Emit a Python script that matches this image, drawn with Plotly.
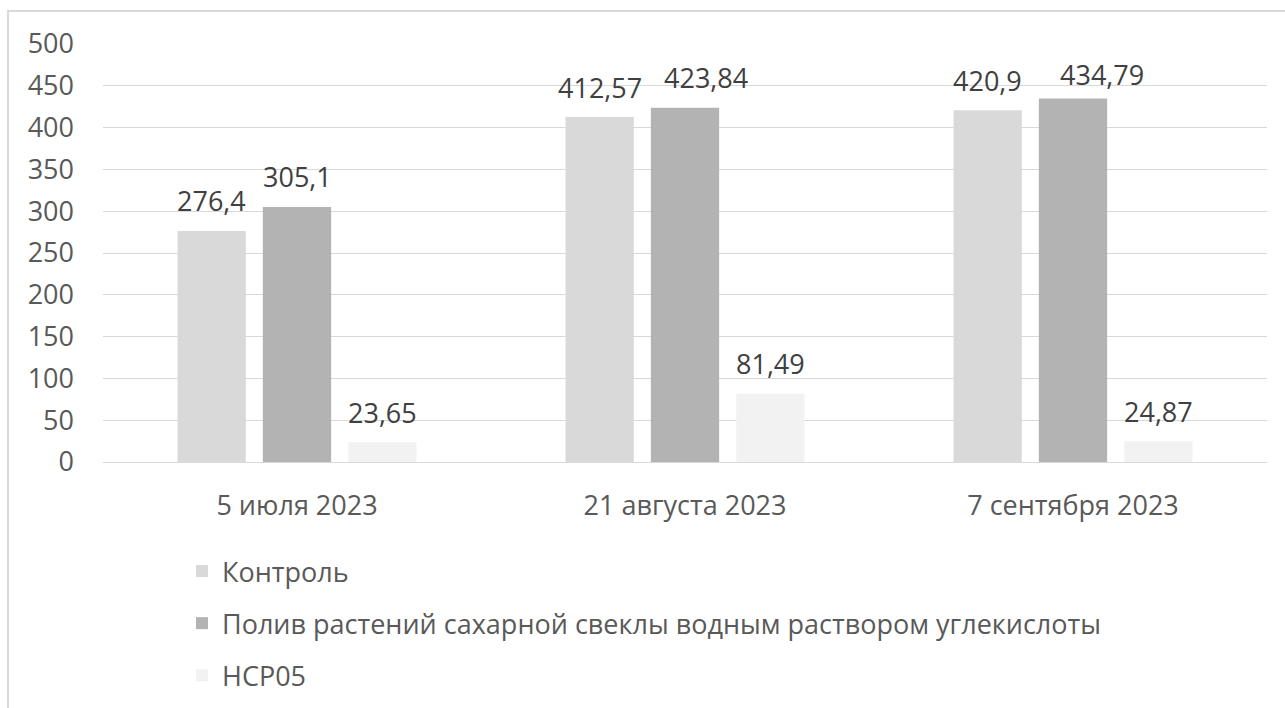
import plotly.graph_objects as go

# Dates of measurement
categories = ["5 июля 2023", "21 августа 2023", "7 сентября 2023"]

# Series values
control = [276.4, 412.57, 420.9]
watering = [305.1, 423.84, 434.79]
hsr05 = [23.65, 81.49, 24.87]

series_names = [
    "Контроль",
    "Полив растений сахарной свеклы водным раствором углекислоты",
    "НСР05",
]
series_colors = ["#d9d9d9", "#b3b3b3", "#f2f2f2"]

y_ticks = [0, 50, 100, 150, 200, 250, 300, 350, 400, 450, 500]

FONT = "Open Sans"
FS = 27

W, H = 1285, 708
ml, mr, mt, mb = 103, 18, 44, 246
pw = W - ml - mr
ph = H - mt - mb

BARGAP = 0.34
GROUPGAP = 0.2
n_series = 3
# horizontal pixel pitch between bars inside one group
slot_px = pw / len(categories) * (1 - BARGAP) / n_series

# a few value labels are nudged aside so neighbouring labels don't collide
# (series index, category index) -> (dx right, dy down) in pixels
label_nudge = {(1, 1): (21, 0), (1, 2): (29, 6)}


def fmt(v):
    return str(v).replace(".", ",")


def px_x(p):
    return (p - ml) / pw


def px_y(p):
    return (H - mb - p) / ph


fig = go.Figure()
annotations = []
all_series = [control, watering, hsr05]
for i, (name, vals, col) in enumerate(zip(series_names, all_series, series_colors)):
    fig.add_trace(go.Bar(
        x=categories,
        y=vals,
        name=name,
        marker=dict(color=col, line=dict(width=0)),
        legendgroup=f"g{i}",
    ))
    # value labels above each bar
    for j, (cat, v) in enumerate(zip(categories, vals)):
        dx, dy = label_nudge.get((i, j), (0, 0))
        annotations.append(dict(
            x=cat,
            y=v,
            xref="x",
            yref="y",
            text=fmt(v),
            showarrow=False,
            xshift=(i - (n_series - 1) / 2) * slot_px + dx,
            yshift=30 - dy,
            yanchor="middle",
            font=dict(family=FONT, size=FS, color="#404040"),
        ))

fig.update_layout(
    width=W,
    height=H,
    margin=dict(l=ml, r=mr, t=mt, b=mb, autoexpand=False),
    paper_bgcolor="white",
    plot_bgcolor="white",
    barmode="group",
    bargap=BARGAP,
    bargroupgap=GROUPGAP,
    font=dict(family=FONT, color="#595959", size=FS),
    showlegend=True,
    legend=dict(
        x=px_x(182),
        y=px_y(547),
        xanchor="left",
        yanchor="top",
        orientation="v",
        font=dict(family=FONT, size=FS, color="#595959"),
        tracegroupgap=14,
        bgcolor="rgba(0,0,0,0)",
        itemwidth=30,
    ),
    xaxis=dict(
        showgrid=False,
        showline=True,
        linecolor="#d9d9d9",
        linewidth=1,
        ticks="",
        tickfont=dict(family=FONT, size=FS, color="#595959"),
        ticklabelstandoff=20,
        automargin=False,
    ),
    yaxis=dict(
        range=[0, 500],
        tickvals=y_ticks,
        showgrid=True,
        gridcolor="#d9d9d9",
        gridwidth=1,
        zeroline=False,
        showline=False,
        ticks="",
        tickfont=dict(family=FONT, size=FS, color="#595959"),
        ticklabelstandoff=28,
        automargin=False,
    ),
    annotations=annotations,
    shapes=[
        dict(
            type="rect",
            xref="paper",
            yref="paper",
            x0=px_x(8),
            x1=px_x(W + 20),
            y0=px_y(H + 20),
            y1=px_y(11),
            line=dict(color="#d9d9d9", width=2),
            fillcolor="rgba(0,0,0,0)",
            layer="below",
        )
    ],
)

fig.write_html("out.html")
